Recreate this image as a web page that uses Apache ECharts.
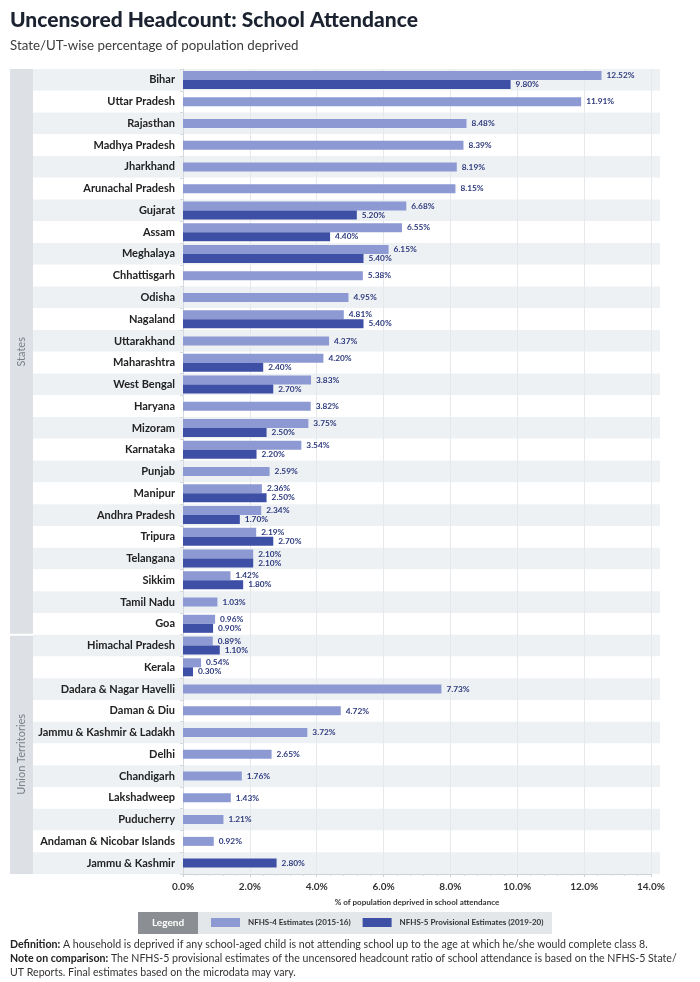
<!DOCTYPE html>
<html>
<head>
<meta charset="utf-8">
<script src="https://cdn.jsdelivr.net/npm/echarts@6/dist/echarts.min.js"></script>
<style>
html,body{margin:0;padding:0;background:#fff;}
#chart{width:700px;height:982px;}
</style>
</head>
<body>
<div id="chart"></div>
<script>
const categories = ['Bihar','Uttar Pradesh','Rajasthan','Madhya Pradesh','Jharkhand','Arunachal Pradesh','Gujarat','Assam','Meghalaya','Chhattisgarh','Odisha','Nagaland','Uttarakhand','Maharashtra','West Bengal','Haryana','Mizoram','Karnataka','Punjab','Manipur','Andhra Pradesh','Tripura','Telangana','Sikkim','Tamil Nadu','Goa','Himachal Pradesh','Kerala','Dadara & Nagar Havelli','Daman & Diu','Jammu & Kashmir & Ladakh','Delhi','Chandigarh','Lakshadweep','Puducherry','Andaman & Nicobar Islands','Jammu & Kashmir'];
const nfhs4 = [12.52,11.91,8.48,8.39,8.19,8.15,6.68,6.55,6.15,5.38,4.95,4.81,4.37,4.20,3.83,3.82,3.75,3.54,2.59,2.36,2.34,2.19,2.10,1.42,1.03,0.96,0.89,0.54,7.73,4.72,3.72,2.65,1.76,1.43,1.21,0.92,null];
const nfhs5 = [9.80,null,null,null,null,null,5.20,4.40,5.40,null,null,5.40,null,2.40,2.70,null,2.50,2.20,null,2.50,1.70,2.70,2.10,1.80,null,0.90,1.10,0.30,null,null,null,null,null,null,null,null,2.80];
const groupLabels = ['States','Union Territories'];
const statesCount = 26;
const xTickLabels = ['0.0%','2.0%','4.0%','6.0%','8.0%','10.0%','12.0%','14.0%'];
const seriesNames = ['NFHS-4 Estimates (2015-16)','NFHS-5 Provisional Estimates (2019-20)'];

const C4 = '#8c99d3', C5 = '#3e4fa6', LBL = '#2d3a7e';
const FONT = 'Lato, "Noto Sans", sans-serif';

const both = categories.map((c,i)=> nfhs4[i]!=null && nfhs5[i]!=null);
const pair4 = nfhs4.map((v,i)=> both[i] ? v : null);
const pair5 = nfhs5.map((v,i)=> both[i] ? v : null);
const single4 = nfhs4.map((v,i)=> !both[i] ? v : null);
const single5 = nfhs5.map((v,i)=> !both[i] ? v : null);

const GTOP = 69, GH = 805, GLEFT = 183, GRIGHT = 49;
const rowH = GH / categories.length;

const lab = {
  show: true, position: 'right', distance: 5, fontSize: 8.3, fontWeight: 'bold',
  color: LBL, fontFamily: FONT,
  formatter: p => p.value == null ? '' : Number(p.value).toFixed(2) + '%'
};

const chart = echarts.init(document.getElementById('chart'));
const bandSplitY = GTOP + statesCount * rowH;

chart.setOption({
  animation: false,
  backgroundColor: '#ffffff',
  title: {
    text: 'Uncensored Headcount: School Attendance',
    subtext: 'State/UT-wise percentage of population deprived',
    left: 10, top: 10, itemGap: 8, padding: 0,
    textStyle: {fontFamily: FONT, fontSize: 21, fontWeight: 900, color: '#1b2230'},
    subtextStyle: {fontFamily: FONT, fontSize: 13.3, color: '#3c3c3c'}
  },
  legend: {
    data: seriesNames, left: 211, top: 918, padding: 0, itemWidth: 29, itemHeight: 9, itemGap: 12,
    icon: 'rect',
    textStyle: {fontFamily: FONT, fontSize: 8, fontWeight: 'bold', color: '#333', padding: [0, 0, 0, 3]}
  },
  grid: [
    {left: GLEFT, right: GRIGHT, top: GTOP, height: GH},
    {left: 33, right: 40, top: GTOP, height: GH}
  ],
  xAxis: [
    {type: 'value', gridIndex: 0, min: 0, max: 14, interval: 2,
     axisLine: {show: true, lineStyle: {color: '#cfd3d8'}},
     axisTick: {show: true, length: 3, lineStyle: {color: '#cfd3d8'}},
     minorTick: {show: true, splitNumber: 5, length: 2, lineStyle: {color: '#d5d9de'}},
     splitLine: {show: true, lineStyle: {color: '#e6e8ec', width: 1}},
     axisLabel: {fontFamily: FONT, fontSize: 10, fontWeight: 'bold', color: '#333', margin: 8,
       formatter: v => xTickLabels[Math.round(v/2)]},
     name: '% of population deprived in school attendance', nameLocation: 'middle', nameGap: 24,
     nameTextStyle: {fontFamily: FONT, fontSize: 8, fontWeight: 'bold', color: '#333'}
    },
    {type: 'value', gridIndex: 1, show: false, min: 0, max: 1}
  ],
  yAxis: [
    {type: 'category', gridIndex: 0, data: categories, inverse: true,
     axisLine: {show: true, lineStyle: {color: '#d5d9de'}},
     axisTick: {show: true, length: 3, lineStyle: {color: '#d5d9de'}},
     axisLabel: {fontFamily: FONT, fontSize: 11, fontWeight: 'bold', color: '#222', margin: 8}
    },
    {type: 'category', gridIndex: 0, data: categories, inverse: true, show: false},
    {type: 'category', gridIndex: 1, data: categories, inverse: true, z: -1,
     axisLine: {show: false}, axisTick: {show: false}, axisLabel: {show: false},
     splitArea: {show: true, interval: 0, areaStyle: {color: ['#eef1f4', '#ffffff']}}
    }
  ],
  series: [
    {name: seriesNames[0], type: 'bar', xAxisIndex: 0, yAxisIndex: 0, data: pair4,
     barWidth: 9, barGap: 0, itemStyle: {color: C4}, label: lab},
    {name: seriesNames[1], type: 'bar', xAxisIndex: 0, yAxisIndex: 0, data: pair5,
     barWidth: 9, barGap: 0, itemStyle: {color: C5}, label: lab},
    {name: seriesNames[0], type: 'bar', xAxisIndex: 0, yAxisIndex: 1, data: single4,
     barWidth: 9, barGap: '-100%', itemStyle: {color: C4}, label: lab},
    {name: seriesNames[1], type: 'bar', xAxisIndex: 0, yAxisIndex: 1, data: single5,
     barWidth: 9, barGap: '-100%', itemStyle: {color: C5}, label: lab}
  ],
  graphic: [
    {type: 'rect', shape: {x: 10, y: GTOP, width: 23, height: bandSplitY - GTOP - 1}, style: {fill: '#dde1e5'}, z: 0},
    {type: 'rect', shape: {x: 10, y: bandSplitY + 1, width: 23, height: GTOP + GH - bandSplitY - 1}, style: {fill: '#dde1e5'}, z: 0},
    {type: 'text', x: 21, y: (GTOP + bandSplitY) / 2, rotation: Math.PI / 2,
     style: {text: groupLabels[0], fill: '#7a7f86', font: '11px ' + FONT, textAlign: 'center', textVerticalAlign: 'middle'}},
    {type: 'text', x: 21, y: (bandSplitY + GTOP + GH) / 2, rotation: Math.PI / 2,
     style: {text: groupLabels[1], fill: '#7a7f86', font: '11px ' + FONT, textAlign: 'center', textVerticalAlign: 'middle'}},
    {type: 'rect', shape: {x: 138, y: 912, width: 414, height: 22}, style: {fill: '#e4e7ea'}, z: -1},
    {type: 'rect', shape: {x: 138, y: 912, width: 60, height: 22}, style: {fill: '#8b8e92'}, z: 0},
    {type: 'text', x: 168, y: 923, style: {text: 'Legend', fill: '#fff', font: 'bold 10px ' + FONT, textAlign: 'center', textVerticalAlign: 'middle'}},
    {type: 'text', x: 10, y: 938, style: {
      text: '{b|Definition:} A household is deprived if any school-aged child is not attending school up to the age at which he/she would complete class 8.\n{b|Note on comparison:} The NFHS-5 provisional estimates of the uncensored headcount ratio of school attendance is based on the NFHS-5 State/\nUT Reports. Final estimates based on the microdata may vary.',
      fill: '#333', font: '10.6px ' + FONT, lineHeight: 14,
      rich: {b: {fontWeight: 'bold', fontSize: 10.6, fontFamily: FONT, fill: '#222', lineHeight: 14}}
    }}
  ]
});
</script>
</body>
</html>
